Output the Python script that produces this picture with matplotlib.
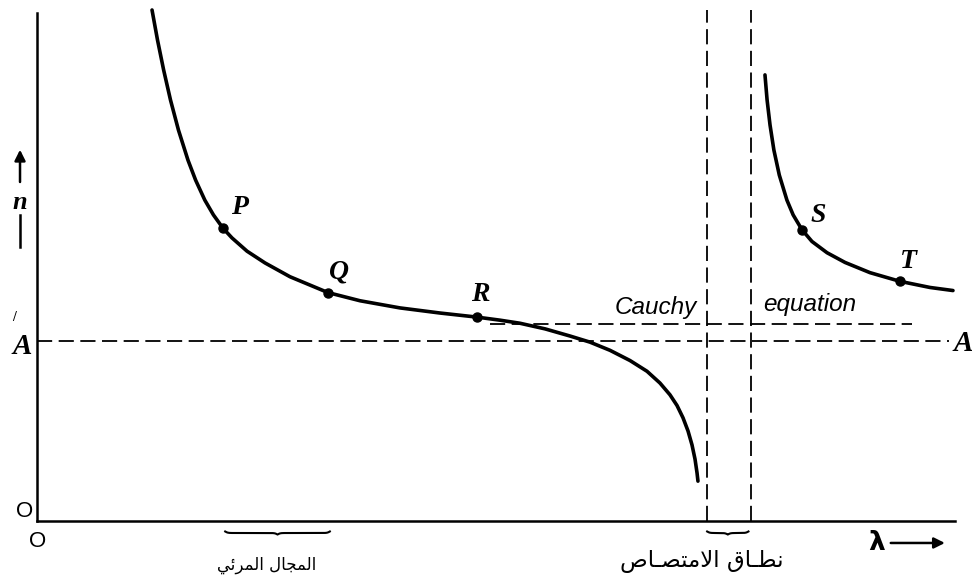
import matplotlib
matplotlib.use("Agg")
import matplotlib.pyplot as plt
import numpy as np

# refractive index n against wavelength (arbitrary units), either side of the absorption band
lam_left = [12.53, 13.13, 13.79, 14.54, 15.41, 16.45, 17.28, 18.28, 19.22, 20.26,
            21.24, 22.88, 24.84, 27.56, 31.70, 35.19, 39.54, 43.90, 47.93, 50.44,
            52.61, 55.34, 58.06, 60.24, 62.42, 64.60, 66.45, 67.86, 68.95, 69.72,
            70.37, 70.92, 71.35, 71.68, 71.90, 72.00]
n_left = [10.00, 9.41, 8.83, 8.24, 7.65, 7.06, 6.67, 6.28, 5.99, 5.73,
          5.54, 5.28, 5.05, 4.78, 4.47, 4.31, 4.17, 4.07, 3.99, 3.93,
          3.87, 3.76, 3.62, 3.50, 3.34, 3.14, 2.93, 2.70, 2.47, 2.26,
          2.02, 1.76, 1.49, 1.21, 0.94, 0.78]
lam_right = [79.30, 79.53, 79.85, 80.27, 80.86, 81.69, 82.37, 83.33, 84.42, 86.06,
             88.02, 90.74, 94.01, 97.28, 99.78]
n_right = [8.73, 8.24, 7.75, 7.26, 6.77, 6.28, 5.99, 5.70, 5.47, 5.25,
           5.06, 4.86, 4.69, 4.57, 4.51]

point_names = ["P", "Q", "R", "S", "T"]
point_lam = [20.26, 31.70, 47.93, 83.33, 94.01]
point_n = [5.73, 4.47, 3.99, 5.70, 4.69]

n_A = 3.52                  # A - A asymptote
cauchy_n = 3.86             # Cauchy equation continuation
cauchy_lam = [49.3, 95.3]
band_edges = [73.0, 77.8]   # absorption band
visible_range = [20.5, 31.9]

label_visible = "المجال المرئي"
label_band = "نطـاق الامتصـاص"

# minimal Arabic shaping: (isolated, final, initial, medial)
FORMS = {
    "\u0627": ("\ufe8d", "\ufe8e", None, None),
    "\u0644": ("\ufedd", "\ufede", "\ufedf", "\ufee0"),
    "\u0645": ("\ufee1", "\ufee2", "\ufee3", "\ufee4"),
    "\u062c": ("\ufe9d", "\ufe9e", "\ufe9f", "\ufea0"),
    "\u0631": ("\ufead", "\ufeae", None, None),
    "\u0626": ("\ufe89", "\ufe8a", "\ufe8b", "\ufe8c"),
    "\u064a": ("\ufef1", "\ufef2", "\ufef3", "\ufef4"),
    "\u0646": ("\ufee5", "\ufee6", "\ufee7", "\ufee8"),
    "\u0637": ("\ufec1", "\ufec2", "\ufec3", "\ufec4"),
    "\u0642": ("\ufed5", "\ufed6", "\ufed7", "\ufed8"),
    "\u062a": ("\ufe95", "\ufe96", "\ufe97", "\ufe98"),
    "\u0635": ("\ufeb9", "\ufeba", "\ufebb", "\ufebc"),
    "\u0640": ("\u0640", "\u0640", "\u0640", "\u0640"),
}
LAM_ALEF = ("\ufefb", "\ufefc", None, None)


def shape_arabic(text):
    chars = []
    i = 0
    while i < len(text):
        if text[i] == "\u0644" and i + 1 < len(text) and text[i + 1] == "\u0627":
            chars.append(LAM_ALEF)
            i += 2
        else:
            chars.append(FORMS.get(text[i], text[i]))
            i += 1
    out = []
    for k, c in enumerate(chars):
        if isinstance(c, str):
            out.append(c)
            continue
        prev = chars[k - 1] if k > 0 else None
        nxt = chars[k + 1] if k + 1 < len(chars) else None
        join_prev = isinstance(prev, tuple) and prev[2] is not None
        join_next = isinstance(nxt, tuple) and c[2] is not None
        iso, fin, ini, med = c
        if join_prev and join_next:
            out.append(med)
        elif join_prev:
            out.append(fin)
        elif join_next:
            out.append(ini)
        else:
            out.append(iso)
    return "".join(reversed(out))


def brace(ax, x0, x1, y, depth, beta=7.0):
    x = np.linspace(x0, x1, 201)
    xh = x[:101]
    yh = 1 / (1 + np.exp(-beta * (xh - xh[0]))) + 1 / (1 + np.exp(-beta * (xh - xh[-1])))
    yy = np.concatenate((yh, yh[-2::-1]))
    ax.plot(x, y + depth - depth * yy, color="black", lw=1.5, clip_on=False)


fig = plt.figure(figsize=(9.72, 5.81), dpi=100, facecolor="white")
ax = fig.add_axes([37 / 972, 60 / 581, 918 / 972, 511 / 581])
ax.set_xlim(0, 100)
ax.set_ylim(0, 10)
for side in ["top", "right"]:
    ax.spines[side].set_visible(False)
ax.spines["left"].set_linewidth(1.8)
ax.spines["bottom"].set_linewidth(1.8)
ax.spines["left"].set_bounds(0, 9.94)
ax.set_xticks([])
ax.set_yticks([])

dash = (0, (8.4, 3.6))
ax.plot([0, 99.4], [n_A, n_A], color="black", lw=1.3, ls=dash, clip_on=False)
ax.plot(cauchy_lam, [cauchy_n, cauchy_n], color="black", lw=1.3, ls=dash)
for edge in band_edges:
    ax.plot([edge, edge], [0, 10], color="black", lw=1.3, ls=dash, clip_on=False)

ax.plot(lam_left, n_left, color="black", lw=2.6, solid_capstyle="round",
        solid_joinstyle="round", clip_on=False)
ax.plot(lam_right, n_right, color="black", lw=2.6, solid_capstyle="round",
        solid_joinstyle="round", clip_on=False)
ax.plot(point_lam, point_n, "o", color="black", ms=6.5)

serif = dict(family=["Liberation Serif", "DejaVu Serif"], weight="bold", style="italic")
offsets = {"P": (1.8, 0.41), "Q": (1.2, 0.41), "R": (0.35, 0.45),
           "S": (1.75, 0.28), "T": (0.9, 0.39)}
for name, x, y in zip(point_names, point_lam, point_n):
    dx, dy = offsets[name]
    ax.text(x + dx, y + dy, name, fontsize=20, ha="center", va="center", **serif)

sans_it = dict(family="Liberation Sans", style="italic")
ax.text(67.4, 4.17, "Cauchy", fontsize=17.5, ha="center", va="center", **sans_it)
ax.text(84.2, 4.23, "equation", fontsize=17.5, ha="center", va="center", **sans_it)

ax.text(-1.63, 3.42, "A", fontsize=21, ha="center", va="center", clip_on=False, **serif)
ax.text(-2.5, 3.91, "/", fontsize=10, ha="center", va="baseline", clip_on=False,
        family="Liberation Serif", weight="bold")
ax.text(100.9, 3.48, "A", fontsize=21, ha="center", va="center", clip_on=False, **serif)

ax.text(-1.31, 0.18, "O", fontsize=16, ha="center", va="center", family="Liberation Sans")
ax.text(0.11, -0.41, "O", fontsize=16, ha="center", va="center", family="Liberation Sans")

# n arrow on the left
ax.annotate("", xy=(-1.85, 7.32), xytext=(-1.85, 6.58), annotation_clip=False,
            arrowprops=dict(arrowstyle="-|>", color="black", lw=1.8, mutation_scale=16))
ax.plot([-1.85, -1.85], [5.99, 5.36], color="black", lw=1.8, clip_on=False)
ax.text(-1.85, 6.24, "n", fontsize=19, ha="center", va="center", **serif)

# lambda arrow under the axis
ax.text(91.5, -0.43, "\u03bb", fontsize=19, ha="center", va="center", weight="bold",
        family="DejaVu Sans")
ax.annotate("", xy=(99.2, -0.43), xytext=(92.7, -0.43), annotation_clip=False,
            arrowprops=dict(arrowstyle="-|>", color="black", lw=1.8, mutation_scale=16))

brace(ax, visible_range[0], visible_range[1], -0.235, 0.06)
brace(ax, band_edges[0], band_edges[1] - 0.3, -0.235, 0.06)

ax.text(25.05, -0.86, shape_arabic(label_visible), fontsize=12, ha="center", va="center",
        family=["DejaVu Sans"])
ax.text(72.44, -0.80, shape_arabic(label_band), fontsize=16.5, ha="center", va="center",
        family=["DejaVu Sans"])

fig.savefig("out.png", dpi=100, facecolor="white")
